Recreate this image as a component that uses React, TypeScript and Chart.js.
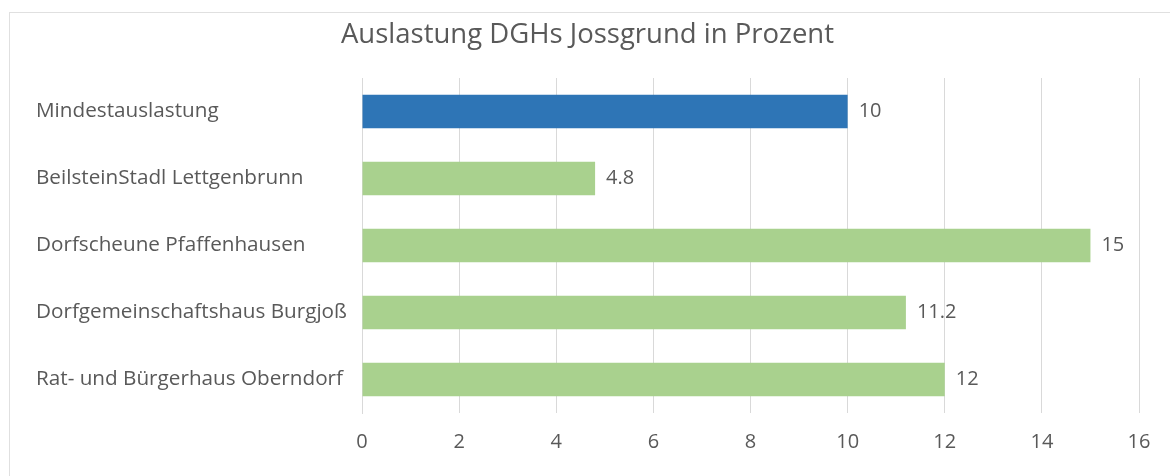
import React, { useEffect, useRef } from "react";
import { Chart, registerables } from "chart.js";

Chart.register(...registerables);

const categories = [
  "Mindestauslastung",
  "BeilsteinStadl Lettgenbrunn",
  "Dorfscheune Pfaffenhausen",
  "Dorfgemeinschaftshaus Burgjoß",
  "Rat- und Bürgerhaus Oberndorf",
];
const values = [10, 4.8, 15, 11.2, 12];
const barColors = ["#2E75B6", "#A9D18E", "#A9D18E", "#A9D18E", "#A9D18E"];
const title = "Auslastung DGHs Jossgrund in Prozent";
const xMin = 0;
const xMax = 16;
const xStep = 2;

const FONT = "'Open Sans', 'Noto Sans', sans-serif";
const TEXT = "#595959";

const valueLabels = {
  id: "valueLabels",
  afterDatasetsDraw(chart: any) {
    const ctx = chart.ctx;
    const meta = chart.getDatasetMeta(0);
    ctx.save();
    ctx.font = `20px ${FONT}`;
    ctx.fillStyle = TEXT;
    ctx.textAlign = "left";
    ctx.textBaseline = "middle";
    meta.data.forEach((bar: any, i: number) => {
      ctx.fillText(String(values[i]), bar.x + 11, bar.y);
    });
    ctx.restore();
  },
};

export default function App() {
  const ref = useRef<HTMLCanvasElement | null>(null);
  useEffect(() => {
    if (!ref.current) return;
    const chart = new Chart(ref.current, {
      type: "bar",
      data: {
        labels: categories,
        datasets: [
          {
            data: values,
            backgroundColor: barColors,
            barPercentage: 0.5,
            categoryPercentage: 1,
          },
        ],
      },
      options: {
        indexAxis: "y",
        animation: false,
        responsive: false,
        maintainAspectRatio: false,
        layout: { padding: { left: 36, right: 31, top: 0, bottom: 0 } },
        plugins: {
          legend: { display: false },
          tooltip: { enabled: false },
          title: {
            display: true,
            text: title,
            color: TEXT,
            font: { family: FONT, size: 27.5, weight: "normal" },
            padding: { top: 19, bottom: 26 },
          },
        },
        scales: {
          x: {
            min: xMin,
            max: xMax,
            ticks: {
              stepSize: xStep,
              color: TEXT,
              font: { family: FONT, size: 20 },
              padding: 17,
            },
            grid: { color: "#d9d9d9", drawTicks: false },
            border: { display: false },
            afterFit: (s: any) => {
              s.height = 63;
            },
          },
          y: {
            ticks: {
              color: TEXT,
              font: { family: FONT, size: 20.7 },
              padding: 19,
              crossAlign: "far",
            },
            grid: { display: false, drawTicks: false },
            border: { display: true, color: "#d9d9d9" },
            afterFit: (s: any) => {
              s.width = 326;
            },
          },
        },
      },
      plugins: [valueLabels],
    });
    return () => chart.destroy();
  }, []);
  return (
    <div style={{ position: "fixed", left: 0, top: 0, width: 1170, height: 476, background: "#fff" }}>
      <div
        style={{
          position: "absolute",
          left: 9,
          top: 12,
          right: 0,
          bottom: 0,
          borderLeft: "1px solid #e0e0e0",
          borderTop: "1px solid #e0e0e0",
        }}
      />
      <canvas ref={ref} width={1170} height={476} style={{ position: "absolute", left: 0, top: 0 }} />
    </div>
  );
}
